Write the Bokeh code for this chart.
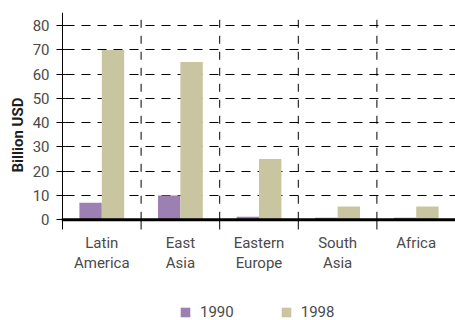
import math
from bokeh.plotting import figure
from bokeh.core.properties import value
from bokeh.models import (Range1d, FixedTicker, Span, Title, Legend, LegendItem,
                          ColumnDataSource)
from bokeh.embed import file_html
from bokeh.resources import INLINE

# Capital flows by region, billion USD
regions = ["Latin\nAmerica", "East\nAsia", "Eastern\nEurope", "South\nAsia", "Africa"]
years = ["1990", "1998"]
values_1990 = [7, 10, 1.2, 0.8, 0.8]
values_1998 = [70, 65, 25, 5.5, 5.5]
y_ticks = [0, 10, 20, 30, 40, 50, 60, 70, 80]

PURPLE = "#9c80b1"
TAN = "#c9c5a1"
TEXT = "#4a4a4a"
FONT = "Roboto"

n = len(regions)
centers = [i + 0.5 for i in range(n)]
bar_w = 0.285
y_top = 85.4      # top of the gridded area
y_tick_end = -4   # bottom of the divider ticks

# the frame runs down to the canvas edge so the region names and the key
# can be drawn inside it
p = figure(width=455, height=320, output_backend="svg", toolbar_location=None,
           x_range=Range1d(-0.0127, n), y_range=Range1d(-41.5, y_top),
           x_axis_location=None,
           min_border_left=61, min_border_right=0, min_border_top=12,
           min_border_bottom=0)
p.outline_line_color = None
p.background_fill_color = "white"
p.border_fill_color = "white"

src = ColumnDataSource(dict(
    x1990=[c - bar_w / 2 for c in centers],
    x1998=[c + bar_w / 2 for c in centers],
    v1990=values_1990,
    v1998=values_1998,
))

# category dividers: dashed above the baseline, solid ticks below it
div_x = [float(i) for i in range(1, n)]
p.segment(x0=div_x, x1=div_x, y0=[0] * len(div_x), y1=[y_top] * len(div_x),
          line_color="black", line_width=1, line_dash="8 8")
p.segment(x0=div_x, x1=div_x, y0=[y_tick_end] * len(div_x), y1=[0] * len(div_x),
          line_color="black", line_width=1)
# y axis line
p.segment(x0=[0], x1=[0], y0=[y_tick_end], y1=[y_top], line_color="black", line_width=1)

r1 = p.vbar(x="x1990", top="v1990", width=bar_w, source=src,
            fill_color=PURPLE, line_color=None)
r2 = p.vbar(x="x1998", top="v1998", width=bar_w, source=src,
            fill_color=TAN, line_color=None)

p.add_layout(Span(location=0, dimension="width", line_color="black", line_width=3))

# y axis ticks and labels
ya = p.yaxis[0]
ya.ticker = FixedTicker(ticks=y_ticks)
ya.axis_line_color = None
ya.major_tick_line_color = "black"
ya.major_tick_in = 4
ya.major_tick_out = 5
ya.minor_tick_line_color = None
ya.major_label_standoff = 7
ya.major_label_text_font = FONT
ya.major_label_text_font_size = "15px"
ya.major_label_text_color = TEXT

p.ygrid.grid_line_color = "black"
p.ygrid.grid_line_dash = "9 7"
p.ygrid.grid_line_dash_offset = 12
p.xgrid.grid_line_color = None

# region names under each column
p.text(x=centers, y=[-5.7] * n, text=regions,
       text_font=value(FONT), text_font_size="15px", text_color=TEXT,
       text_align="center", text_baseline="top", text_line_height=1.16)

# y title in the left panel
p.add_layout(Title(text="Billion USD", align="left", offset=148,
                   text_font=FONT, text_font_style="bold",
                   text_font_size="15px", text_color="#1e1e1e",
                   standoff=5), "left")

legend = Legend(items=[LegendItem(label=years[0], renderers=[r1]),
                       LegendItem(label=years[1], renderers=[r2])],
                location=(118, -1), orientation="horizontal",
                padding=0, margin=0, spacing=46, label_standoff=9,
                glyph_width=12, glyph_height=12, label_height=12,
                border_line_color=None, background_fill_alpha=0,
                label_text_font=FONT, label_text_font_size="15px",
                label_text_color=TEXT)
p.add_layout(legend, "center")

open("out.html", "w").write(file_html(p, INLINE))
